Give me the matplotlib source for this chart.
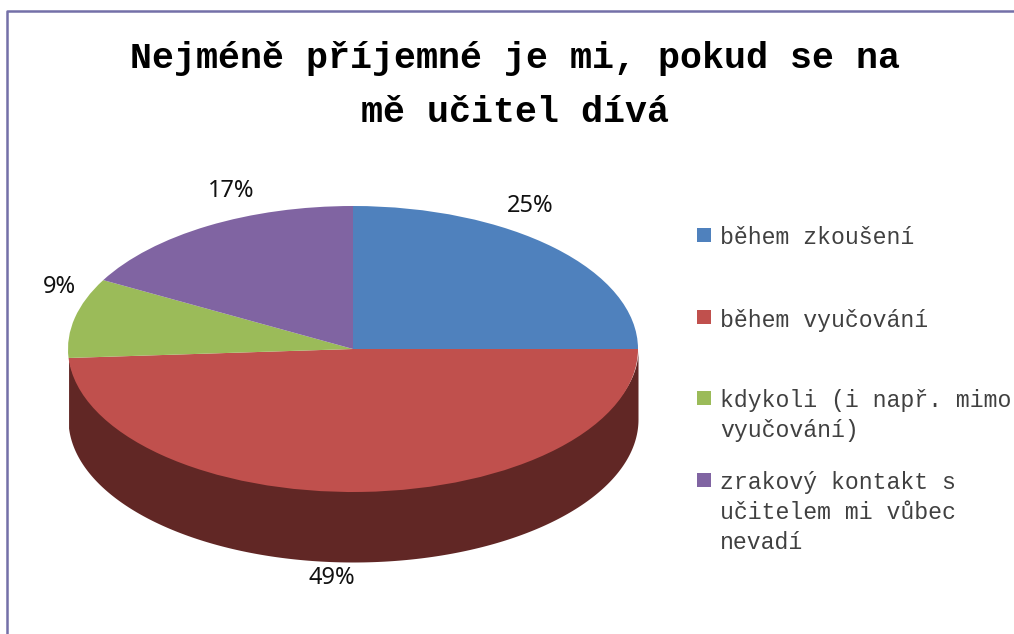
import matplotlib
matplotlib.use("Agg")
import matplotlib.pyplot as plt
import numpy as np
from matplotlib.lines import Line2D
from matplotlib.patches import Rectangle

title = "Nejméně příjemné je mi, pokud se na\nmě učitel dívá"
categories = [
    "během zkoušení",
    "během vyučování",
    "kdykoli (i např. mimo\nvyučování)",
    "zrakový kontakt s\nučitelem mi vůbec\nnevadí",
]
shares = [25, 49, 9, 17]
share_labels = ["25%", "49%", "9%", "17%"]
colors = ["#4F81BD", "#C0504D", "#9BBB59", "#8064A2"]
side_color = "#612725"

W, H = 1014, 634


def fx(px):
    return px / W


def fy(py):
    return 1 - py / H


fig = plt.figure(figsize=(W / 100, H / 100), dpi=100, facecolor="white")

# pie axes squashed into the ellipse
ax = fig.add_axes([fx(68), fy(492), 570 / W, 286 / H])
ax.pie(shares, colors=colors, startangle=90, counterclock=False, radius=1,
       wedgeprops={"linewidth": 0})
ax.set_aspect("auto")
ax.set_xlim(-1, 1)
ax.set_ylim(-1, 1)

# front wall, only the red slice faces the viewer, runs behind the top to hide the seam
depth = 70 / 143
red_end = 360 * shares[1] / sum(shares)
theta = np.radians(np.linspace(0, -red_end, 300))
ax.fill_between(np.cos(theta), np.sin(theta) - depth, np.sin(theta) * 0.95,
                color=side_color, linewidth=0, clip_on=False, zorder=0)

# frame
fig.add_artist(Line2D([fx(7), fx(7), fx(1014)], [fy(634), fy(11), fy(11)],
                      color="#7470A8", linewidth=1.8))

fig.text(fx(515), fy(58), title.split("\n")[0], family="Liberation Mono",
         weight="bold", fontsize=26.4, ha="center", va="center")
fig.text(fx(515), fy(112), title.split("\n")[1], family="Liberation Mono",
         weight="bold", fontsize=26.4, ha="center", va="center")

label_pos = [(530, 206), (332, 578), (59, 287), (231, 191)]
for lab, (x, y) in zip(share_labels, label_pos):
    fig.text(fx(x), fy(y), lab, family="Noto Sans", fontsize=17, ha="center",
             va="center", color="#111111")

# legend
key_top = [228, 310, 391, 473]
for name, col, top in zip(categories, colors, key_top):
    fig.add_artist(Rectangle((fx(697), fy(top + 14)), 14 / W, 14 / H,
                             transform=fig.transFigure, color=col, linewidth=0))
    for i, line in enumerate(name.split("\n")):
        fig.text(fx(720), fy(top + 10 + i * 29.7), line, family="Liberation Mono",
                 fontsize=16.7, ha="left", va="center", color="#404040")

fig.savefig("out.png", dpi=100, facecolor="white")
